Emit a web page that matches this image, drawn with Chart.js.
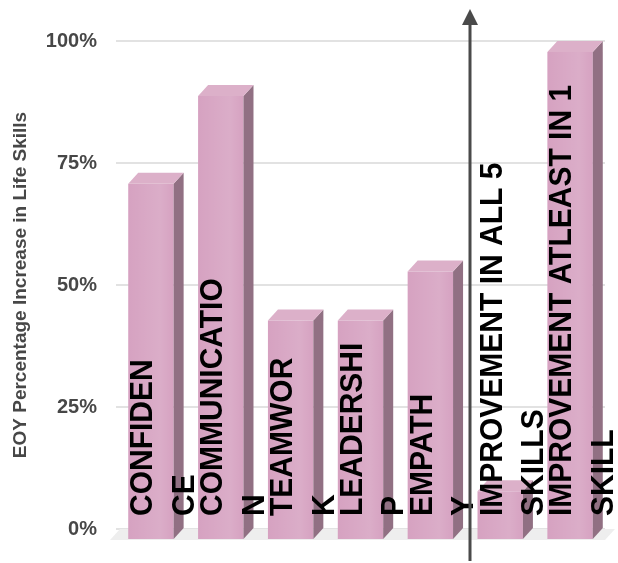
<!DOCTYPE html>
<html>
<head>
<meta charset="utf-8">
<script src="https://cdn.jsdelivr.net/npm/chart.js@4"></script>
<style>
  html, body { margin: 0; padding: 0; background: #fff; }
  #wrap { width: 618px; height: 563px; position: relative; }
</style>
</head>
<body>
<div id="wrap"><canvas id="skills"></canvas></div>
<script>
// data
const categories = [
  ['CONFIDEN', 'CE'],
  ['COMMUNICATIO', 'N'],
  ['TEAMWOR', 'K'],
  ['LEADERSHI', 'P'],
  ['EMPATH', 'Y'],
  ['IMPROVEMENT IN ALL 5', 'SKILLS'],
  ['IMPROVEMENT ATLEAST IN 1', 'SKILL']
]
const increase = [73, 91, 45, 45, 55, 10, 100]
const tickValues = [0, 25, 50, 75, 100]

const DX = 10, DY = 11   // 3d depth of the columns

const frontColor = '#d6a2c1'
const sideColor  = '#917083'
const topColor   = '#dcb0c9'

// columns get a fake 3d look: front face pushed down, side + top drawn up-right
const columns3d = {
  id: 'columns3d',
  beforeDatasetsDraw(chart) {
    const {ctx, chartArea} = chart
    const y0 = chart.scales.y.getPixelForValue(0)
    ctx.save()
    ctx.fillStyle = '#eeeeee'
    ctx.beginPath()
    ctx.moveTo(chartArea.left - 6, y0 + DY)
    ctx.lineTo(chartArea.right, y0 + DY)
    ctx.lineTo(chartArea.right + DX, y0)
    ctx.lineTo(chartArea.left + DX - 6, y0)
    ctx.closePath()
    ctx.fill()
    ctx.restore()
    ctx.save()
    ctx.translate(0, DY)
  },
  afterDatasetsDraw(chart) {
    const ctx = chart.ctx
    ctx.restore()
    const meta = chart.getDatasetMeta(0)
    meta.data.forEach(bar => {
      const half = bar.width / 2
      const l = bar.x - half, r = bar.x + half
      const t = bar.y + DY, b = bar.base + DY
      ctx.save()
      // side
      ctx.fillStyle = sideColor
      ctx.beginPath()
      ctx.moveTo(r, t)
      ctx.lineTo(r + DX, t - DY)
      ctx.lineTo(r + DX, b - DY)
      ctx.lineTo(r, b)
      ctx.closePath()
      ctx.fill()
      // top
      ctx.fillStyle = topColor
      ctx.beginPath()
      ctx.moveTo(l, t)
      ctx.lineTo(l + DX, t - DY)
      ctx.lineTo(r + DX, t - DY)
      ctx.lineTo(r, t)
      ctx.closePath()
      ctx.fill()
      // soft light band on the front
      const g = ctx.createLinearGradient(l, 0, r, 0)
      g.addColorStop(0, 'rgba(255,255,255,0)')
      g.addColorStop(0.7, 'rgba(255,255,255,0.12)')
      g.addColorStop(1, 'rgba(255,255,255,0)')
      ctx.fillStyle = g
      ctx.fillRect(l, t, r - l, b - t)
      ctx.restore()
    })
  }
}

// rotated category text inside / beside each column
const barText = {
  id: 'barText',
  afterDatasetsDraw(chart) {
    const ctx = chart.ctx
    const meta = chart.getDatasetMeta(0)
    ctx.save()
    ctx.fillStyle = '#000'
    ctx.font = 'bold 30px "Liberation Sans", Arial, sans-serif'
    ctx.textAlign = 'left'
    ctx.textBaseline = 'middle'
    meta.data.forEach((bar, i) => {
      const lines = chart.data.labels[i]
      ctx.save()
      ctx.translate(bar.x, bar.base + DY - 23)
      ctx.rotate(-Math.PI / 2)
      ctx.scale(1, 1.04)
      ctx.fillText(lines[0], 0, -7)
      ctx.fillText(lines[1], 0, 33)
      ctx.restore()
    })
    ctx.restore()
  }
}

// the upward arrow between EMPATHY and the IMPROVEMENT columns
const arrow = {
  id: 'arrow',
  afterDraw(chart) {
    const {ctx, scales, height} = chart
    const x = Math.round((scales.x.getPixelForValue(4) + scales.x.getPixelForValue(5)) / 2) + 5
    ctx.save()
    ctx.strokeStyle = '#4a4a4a'
    ctx.fillStyle = '#4a4a4a'
    ctx.lineWidth = 3
    ctx.beginPath()
    ctx.moveTo(x, height - 2)
    ctx.lineTo(x, 22)
    ctx.stroke()
    ctx.beginPath()
    ctx.moveTo(x, 9)
    ctx.lineTo(x - 8, 25)
    ctx.lineTo(x + 8, 25)
    ctx.closePath()
    ctx.fill()
    ctx.restore()
  }
}

new Chart(document.getElementById('skills'), {
  type: 'bar',
  data: {
    labels: categories,
    datasets: [{
      label: 'EOY Percentage Increase in Life Skills',
      data: increase,
      backgroundColor: frontColor,
      borderWidth: 0,
      barPercentage: 0.65,
      categoryPercentage: 1
    }]
  },
  options: {
    responsive: true,
    maintainAspectRatio: false,
    animation: false,
    devicePixelRatio: 1,
    layout: { padding: { top: 41, right: 13, bottom: 34, left: 0 } },
    plugins: {
      legend: { display: false },
      tooltip: { enabled: false }
    },
    scales: {
      x: {
        display: false
      },
      y: {
        min: 0,
        max: 100,
        afterBuildTicks(scale) {
          scale.ticks = tickValues.map(v => ({ value: v }))
        },
        afterFit(scale) { scale.width = 116 },
        border: { display: false },
        grid: { color: '#e2e2e2', lineWidth: 2, drawTicks: false },
        ticks: {
          padding: 19,
          color: '#474747',
          font: { family: '"Liberation Sans", Arial, sans-serif', size: 20, weight: 'bold' },
          callback: v => v + '%'
        },
        title: {
          display: true,
          text: 'EOY Percentage Increase in Life Skills',
          color: '#474747',
          font: { family: '"Liberation Sans", Arial, sans-serif', size: 19, weight: 'bold' },
          padding: { top: 9, bottom: 0 }
        }
      }
    }
  },
  plugins: [columns3d, barText, arrow]
})
</script>
</body>
</html>
